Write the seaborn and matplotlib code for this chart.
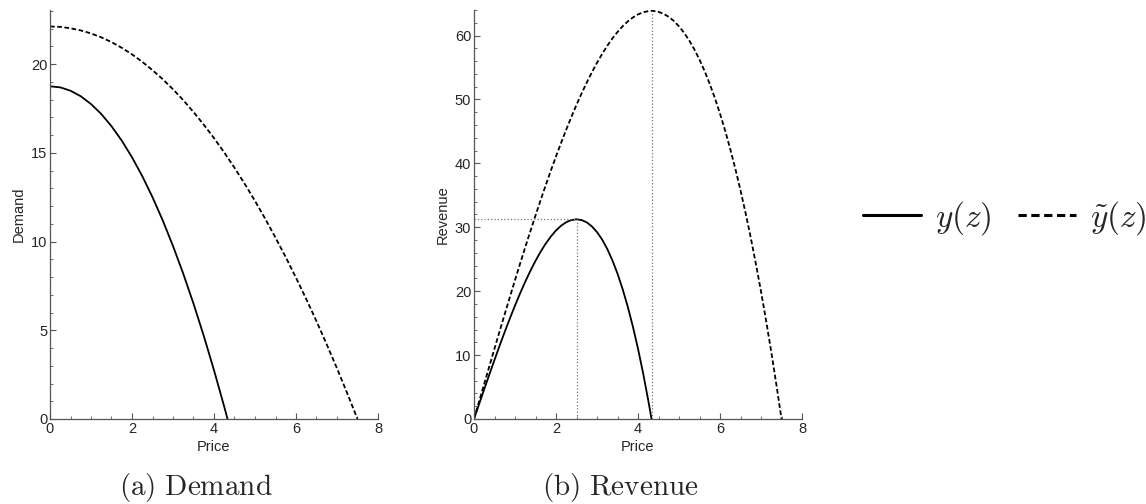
import matplotlib
matplotlib.use("Agg")
import matplotlib.pyplot as plt
from matplotlib.lines import Line2D
from matplotlib.ticker import MultipleLocator
import seaborn as sns
import pandas as pd

# ---- data ----
# demand curves
price_d_y = [0, 0.25, 0.5, 0.75, 1, 1.25, 1.5, 1.75, 2, 2.25, 2.5, 2.75, 3, 3.25, 3.5,
             3.75, 4, 4.25, 4.33]
demand_y = [18.75, 18.69, 18.5, 18.19, 17.75, 17.19, 16.5, 15.69, 14.75, 13.69, 12.5,
            11.19, 9.75, 8.19, 6.5, 4.69, 2.75, 0.69, 0.0]

price_d_yt = [0, 0.25, 0.5, 0.75, 1, 1.25, 1.5, 1.75, 2, 2.25, 2.5, 2.75, 3, 3.25, 3.5,
              3.75, 4, 4.25, 4.5, 4.75, 5, 5.25, 5.5, 5.75, 6, 6.25, 6.5, 6.75,
              7, 7.25, 7.5]
demand_yt = [22.12, 22.10, 22.02, 21.90, 21.73, 21.51, 21.24, 20.92, 20.55, 20.13,
             19.66, 19.15, 18.58, 17.97, 17.30, 16.59, 15.83, 15.02, 14.16,
             13.25, 12.29, 11.28, 10.22, 9.12, 7.96, 6.76, 5.51, 4.20, 2.85, 1.45, 0.0]

# revenue curves
price_r_y = [0, 0.125, 0.25, 0.375, 0.5, 0.625, 0.75, 0.875, 1, 1.125, 1.25, 1.375, 1.5,
             1.625, 1.75, 1.875, 2, 2.125, 2.25, 2.375, 2.5, 2.625, 2.75, 2.875, 3,
             3.125, 3.25, 3.375, 3.5, 3.625, 3.75, 3.875, 4, 4.125, 4.25, 4.33]
revenue_y = [0, 2.34, 4.67, 6.98, 9.25, 11.48, 13.64, 15.74, 17.75, 19.67, 21.48, 23.18,
             24.75, 26.18, 27.45, 28.56, 29.5, 30.25, 30.80, 31.13, 31.25, 31.13, 30.77,
             30.14, 29.25, 28.08, 26.61, 24.84, 22.75, 20.33, 17.58, 14.47, 11.0, 7.15,
             2.92, 0.0]

price_r_yt = [0, 0.125, 0.25, 0.375, 0.5, 0.625, 0.75, 0.875, 1, 1.125, 1.25, 1.375, 1.5,
              1.625, 1.75, 1.875, 2, 2.125, 2.25, 2.375, 2.5, 2.625, 2.75, 2.875, 3,
              3.125, 3.25, 3.375, 3.5, 3.625, 3.75, 3.875, 4, 4.125, 4.25, 4.33, 4.375,
              4.5, 4.625, 4.75, 4.875, 5, 5.125, 5.25, 5.375, 5.5, 5.625, 5.75, 5.875,
              6, 6.125, 6.25, 6.375, 6.5, 6.625, 6.75, 6.875, 7, 7.125, 7.25, 7.375, 7.5]
revenue_yt = [0, 2.76, 5.52, 8.27, 11.01, 13.73, 16.42, 19.09, 21.73, 24.33, 26.88,
              29.39, 31.85, 34.26, 36.60, 38.88, 41.09, 43.23, 45.29, 47.27, 49.16,
              50.95, 52.65, 54.25, 55.74, 57.12, 58.39, 59.54, 60.56, 61.45, 62.21,
              62.83, 63.31, 63.64, 63.82, 63.86, 63.85, 63.71, 63.40, 62.93, 62.28,
              61.45, 60.43, 59.23, 57.83, 56.23, 54.44, 52.43, 50.21, 47.78, 45.13,
              42.24, 39.13, 35.79, 32.20, 28.37, 24.29, 19.96, 15.37, 10.52, 5.39, 0.0]

# optimum guide lines (price, revenue)
opt_price = [2.5, 4.33]
opt_revenue = [31.25, 63.86]

series_labels = [r"$y(z)$", r"$\tilde{y}(z)$"]
captions = [r"$\mathrm{(a)\ Demand}$", r"$\mathrm{(b)\ Revenue}$"]

df_d = pd.concat([
    pd.DataFrame({"Price": price_d_y, "Demand": demand_y, "s": "y"}),
    pd.DataFrame({"Price": price_d_yt, "Demand": demand_yt, "s": "yt"}),
], ignore_index=True)
df_r = pd.concat([
    pd.DataFrame({"Price": price_r_y, "Revenue": revenue_y, "s": "y"}),
    pd.DataFrame({"Price": price_r_yt, "Revenue": revenue_yt, "s": "yt"}),
], ignore_index=True)

sns.set_style("ticks")
plt.rcParams["font.family"] = ["Liberation Sans", "DejaVu Sans"]
plt.rcParams["mathtext.fontset"] = "cm"

W, H = 1146, 504
fig = plt.figure(figsize=(W / 100, H / 100), dpi=100)
ax1 = fig.add_axes([50 / W, 85 / H, 328 / W, 409 / H])
ax2 = fig.add_axes([474 / W, 85 / H, 328 / W, 409 / H])

dash_map = {"y": "", "yt": (2.6, 1.4)}
for ax, df, col, ylim, ymaj, ymin in [(ax1, df_d, "Demand", 23.05, 5, 1),
                                      (ax2, df_r, "Revenue", 64.0, 10, 2)]:
    sns.lineplot(data=df, x="Price", y=col, style="s", dashes=dash_map, color="black",
                 linewidth=1.3, estimator=None, sort=False, legend=False, ax=ax)
    ax.set_xlim(0, 8)
    ax.set_ylim(0, ylim)
    ax.xaxis.set_major_locator(MultipleLocator(2))
    ax.xaxis.set_minor_locator(MultipleLocator(0.5))
    ax.yaxis.set_major_locator(MultipleLocator(ymaj))
    ax.yaxis.set_minor_locator(MultipleLocator(ymin))
    ax.tick_params(which="major", direction="in", length=4, width=0.8, color="#555",
                   labelsize=10.5, pad=2)
    ax.tick_params(which="minor", direction="in", length=2, width=0.6, color="#555")
    for s in ["top", "right"]:
        ax.spines[s].set_visible(False)
    for s in ["left", "bottom"]:
        ax.spines[s].set_color("#555")
        ax.spines[s].set_linewidth(0.9)
    ax.set_xlabel("Price", fontsize=10.5, labelpad=3)
    ax.set_ylabel(col, fontsize=10.5, labelpad=4)

# dotted guide lines on revenue panel
ax2.plot([opt_price[0], opt_price[0]], [0, opt_revenue[0]], ls=":", color="#777", lw=0.9)
ax2.plot([0, opt_price[0]], [opt_revenue[0], opt_revenue[0]], ls=":", color="#777", lw=0.9)
ax2.plot([opt_price[1], opt_price[1]], [0, opt_revenue[1]], ls=":", color="#777", lw=0.9)

fig.text(196 / W, 1 - 488 / H, captions[0], fontsize=21, ha="center", va="center")
fig.text(620 / W, 1 - 488 / H, captions[1], fontsize=21, ha="center", va="center")

handles = [Line2D([], [], color="black", lw=2.2),
           Line2D([], [], color="black", lw=2.2, dashes=(2.7, 1.5))]
fig.legend(handles, series_labels, loc="center left", bbox_to_anchor=(863 / W, 1 - 218 / H),
           ncol=2, frameon=False, fontsize=24, handlelength=1.75, handletextpad=0.4,
           columnspacing=0.8, borderpad=0, borderaxespad=0)

fig.savefig("out.png", dpi=100)
